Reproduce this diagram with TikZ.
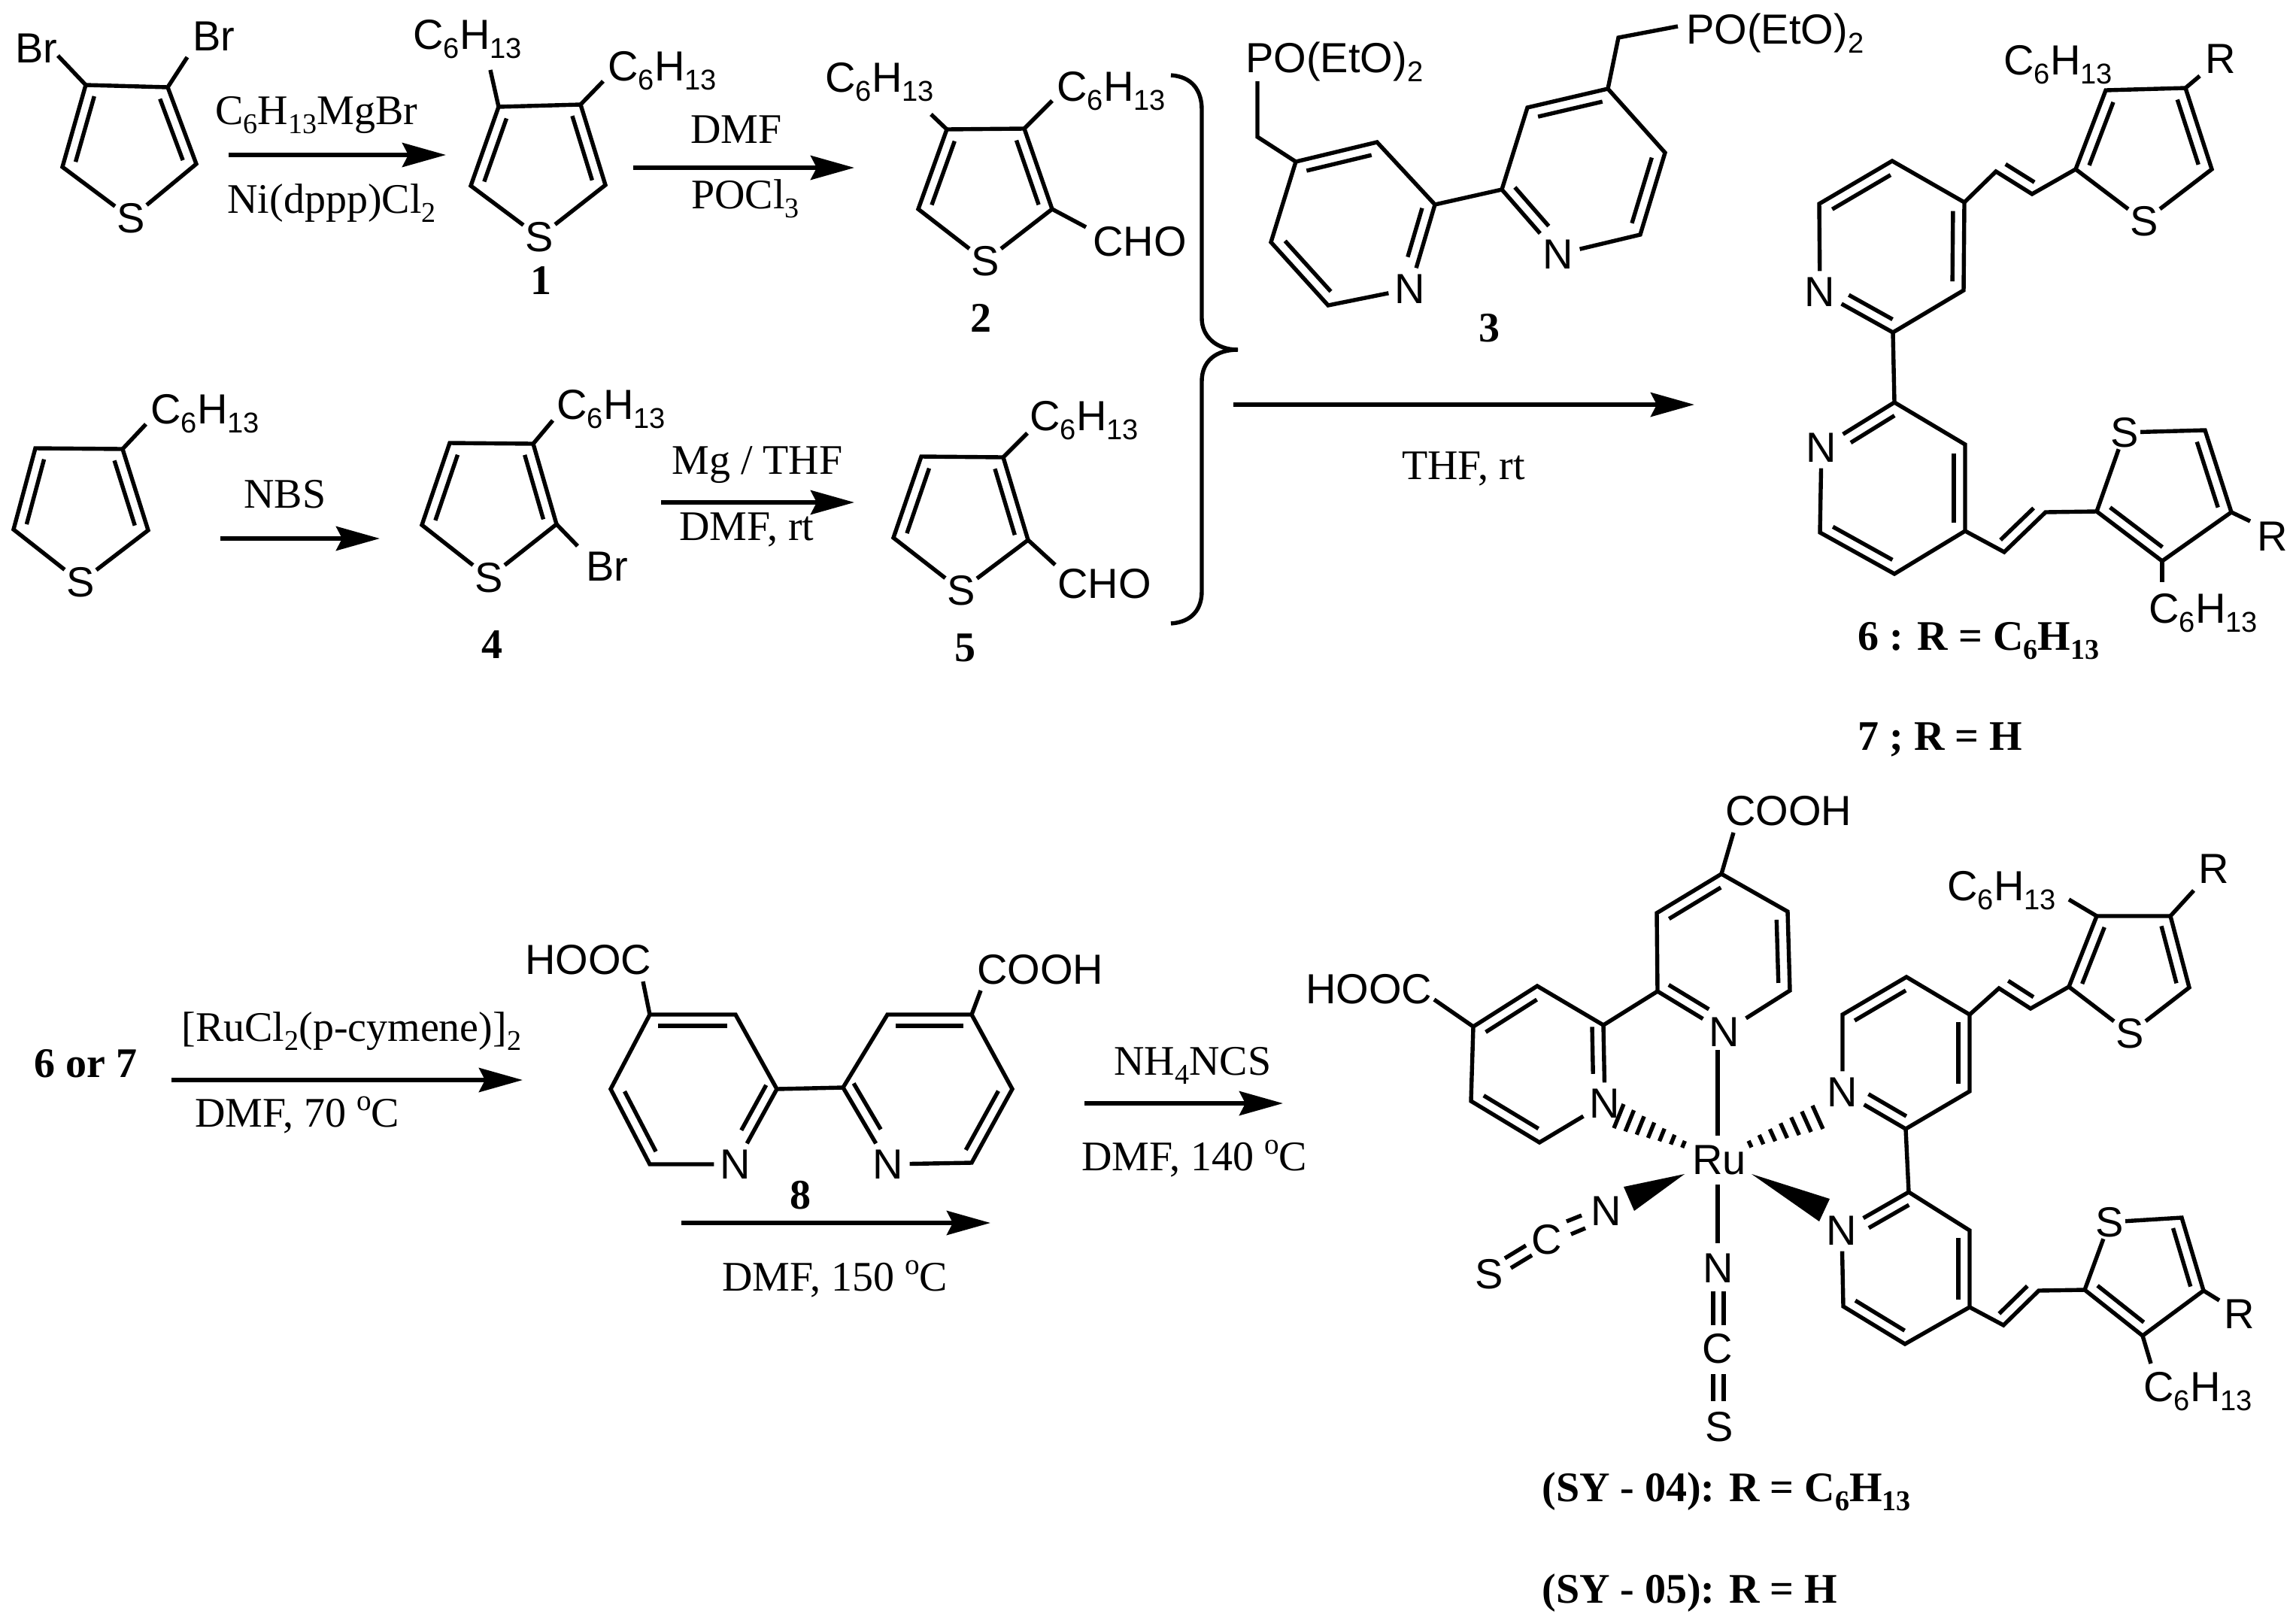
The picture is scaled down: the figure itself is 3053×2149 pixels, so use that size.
\documentclass[tikz,border=0pt]{standalone}
\usepackage{fontspec}
\setmainfont{Liberation Serif}
\newfontfamily\arialf{Liberation Sans}
\usetikzlibrary{calc,arrows.meta}
\newcommand\sbs[1]{\raisebox{-.23em}{\scalebox{.68}{#1}}}
\newcommand\dg{\raisebox{.38em}{\scalebox{.7}{o}}}
\newcommand\hex{C\sbs{6}H\sbs{13}}
\newcommand\ibx[4]{\draw[bond] ($(#1)!#3!(#2)!7.5pt!-90:(#2)$) -- ($(#1)!#4!(#2)!7.5pt!-90:(#2)$);}
\newcommand\ib[2]{\ibx{#1}{#2}{.1}{.9}}
\newcommand\hashb[3]{\foreach \f in {0,.12,.24,.36,.48,.6,.72}{\draw[bond] ($(#2)!\f!(#1)$) -- ($(#3)!\f!(#1)$);}}
\tikzset{
  x=0.5pt,y=-0.5pt,
  bond/.style={line width=2.7pt,line join=miter,line cap=butt},
  rxn/.style={line width=3pt,-{Stealth[length=29pt,width=16pt,inset=4pt]}},
  sfont/.style={font=\arialf\fontsize{28}{30}\selectfont},
  rfont/.style={font=\fontsize{28}{30}\selectfont},
  bfont/.style={font=\bfseries\fontsize{28}{30}\selectfont},
  satom/.style={sfont,inner sep=1pt},
  natom/.style={sfont,inner sep=4pt},
  slab/.style={sfont,anchor=base west,inner sep=0pt},
  rlab/.style={rfont,anchor=base west,inner sep=0pt},
  blab/.style={bfont,anchor=base west,inner sep=0pt},
  rcen/.style={rfont,inner sep=0pt},
  bcen/.style={bfont,inner sep=0pt},
  sym/.style={sfont,inner sep=0pt},
}
\begin{document}
\begin{tikzpicture}
\useasboundingbox (0,0) rectangle (3053,2149);
% ---------- dibromothiophene
\coordinate (a1) at (114,113); \coordinate (a2) at (223,116);
\coordinate (a3) at (261,218); \coordinate (a4) at (83,222);
\coordinate (a5) at (77,74); \coordinate (a6) at (249,76);
\node[satom] (aS) at (174,290) {S};
\node[slab] (aB1) at (20,83) {Br};
\node[slab] (aB2) at (256,67) {Br};
\draw[bond] (aS) -- (a3) -- (a2) -- (a1) -- (a4) -- (aS);
\draw[bond] (a1) -- (a5); \draw[bond] (a2) -- (a6);
\ib{a2}{a3} \ib{a4}{a1}
% arrow 1
\coordinate (r1s) at (304,206); \coordinate (r1e) at (593,206);
\draw[rxn] (r1s) -- (r1e);
\node[rlab] (r1a) at (286,165) {C\sbs{6}H\sbs{13}MgBr};
\node[rlab] (r1b) at (302,283) {Ni(dppp)Cl\sbs{2}};
% ---------- compound 1
\coordinate (b1) at (663,142); \coordinate (b2) at (772,139);
\coordinate (b3) at (805,246); \coordinate (b4) at (626,247);
\coordinate (b5) at (652,93); \coordinate (b6) at (802,108);
\node[satom] (bS) at (717,315) {S};
\node[slab] (bH1) at (549,65) {\hex};
\node[slab] (bH2) at (808,107) {\hex};
\node[bcen] (bN) at (719,373) {1};
\draw[bond] (bS) -- (b3) -- (b2) -- (b1) -- (b4) -- (bS);
\draw[bond] (b1) -- (b5); \draw[bond] (b2) -- (b6);
\ib{b2}{b3} \ib{b4}{b1}
% arrow 2
\coordinate (r2s) at (842,223); \coordinate (r2e) at (1136,223);
\draw[rxn] (r2s) -- (r2e);
\node[rcen] (r2a) at (979,172) {DMF};
\node[rlab] (r2b) at (919,277) {POCl\sbs{3}};
% ---------- compound 2
\coordinate (c1) at (1259,172); \coordinate (c2) at (1362,171);
\coordinate (c3) at (1399,278); \coordinate (c4) at (1221,278);
\coordinate (c5) at (1238,152); \coordinate (c6) at (1399,134);
\coordinate (c7) at (1444,302);
\node[satom] (cS) at (1310,347) {S};
\node[slab] (cH1) at (1097,122) {\hex};
\node[slab] (cH2) at (1405,134) {\hex};
\node[slab] (cC) at (1453,340) {CHO};
\node[bcen] (cN) at (1304,423) {2};
\draw[bond] (cS) -- (c3) -- (c2) -- (c1) -- (c4) -- (cS);
\draw[bond] (c1) -- (c5); \draw[bond] (c2) -- (c6); \draw[bond] (c3) -- (c7);
\ib{c2}{c3} \ib{c4}{c1}
% ---------- 3-hexylthiophene
\coordinate (e1) at (47,596); \coordinate (e2) at (163,597);
\coordinate (e3) at (197,705); \coordinate (e4) at (18,704);
\coordinate (e5) at (194,564);
\node[satom] (eS) at (107,774) {S};
\node[slab] (eH) at (200,563) {\hex};
\draw[bond] (eS) -- (e3) -- (e2) -- (e1) -- (e4) -- (eS);
\draw[bond] (e2) -- (e5);
\ib{e2}{e3} \ib{e4}{e1}
% arrow NBS
\coordinate (r3s) at (293,716); \coordinate (r3e) at (505,716);
\draw[rxn] (r3s) -- (r3e);
\node[rcen] (r3a) at (379,657) {NBS};
% ---------- compound 4
\coordinate (f1) at (598,589); \coordinate (f2) at (709,590);
\coordinate (f3) at (740,697); \coordinate (f4) at (561,698);
\coordinate (f5) at (735,559); \coordinate (f6) at (768,726);
\node[satom] (fS) at (650,768) {S};
\node[slab] (fH) at (740,557) {\hex};
\node[slab] (fB) at (779,772) {Br};
\node[bcen] (fN) at (654,857) {4};
\draw[bond] (fS) -- (f3) -- (f2) -- (f1) -- (f4) -- (fS);
\draw[bond] (f2) -- (f5); \draw[bond] (f3) -- (f6);
\ib{f2}{f3} \ib{f4}{f1}
% arrow Mg
\coordinate (r4s) at (879,668); \coordinate (r4e) at (1136,668);
\draw[rxn] (r4s) -- (r4e);
\node[rlab] (r4a) at (893,630) {Mg / THF};
\node[rlab] (r4b) at (903,718) {DMF, rt};
% ---------- compound 5
\coordinate (g1) at (1225,607); \coordinate (g2) at (1334,608);
\coordinate (g3) at (1367,718); \coordinate (g4) at (1188,715);
\coordinate (g5) at (1366,576); \coordinate (g6) at (1403,751);
\node[satom] (gS) at (1278,785) {S};
\node[slab] (gH) at (1369,572) {\hex};
\node[slab] (gC) at (1406,795) {CHO};
\node[bcen] (gN) at (1283,861) {5};
\draw[bond] (gS) -- (g3) -- (g2) -- (g1) -- (g4) -- (gS);
\draw[bond] (g2) -- (g5); \draw[bond] (g3) -- (g6);
\ib{g2}{g3} \ib{g4}{g1}
% brace
\coordinate (br1) at (1557,100); \coordinate (br2) at (1646,465); \coordinate (br3) at (1557,829);
\draw[bond] (br1) .. controls (1585,102) and (1598,120) .. (1598,146) -- (1598,423)
  .. controls (1598,447) and (1617,465) .. (br2);
\draw[bond] (br2) .. controls (1617,465) and (1598,480) .. (1598,507) -- (1598,786)
  .. controls (1598,810) and (1585,827) .. (br3);
% ---------- compound 3
\coordinate (d4) at (1723,215); \coordinate (d3) at (1831,189); \coordinate (d2) at (1908,272);
\coordinate (d6) at (1766,406); \coordinate (d5) at (1690,322);
\coordinate (dm) at (1672,182); \coordinate (dt) at (1672,108);
\node[natom] (dN) at (1875,384) {N};
\coordinate (h2) at (1997,252); \coordinate (h3) at (2031,143); \coordinate (h4) at (2138,118);
\coordinate (h5) at (2214,203); \coordinate (h6) at (2181,312);
\coordinate (hm) at (2152,50); \coordinate (ht) at (2231,35);
\node[natom] (hN) at (2072,338) {N};
\node[slab] (dP) at (1656,96) {PO(EtO)\sbs{2}};
\node[slab] (hP) at (2242,58) {PO(EtO)\sbs{2}};
\node[bcen] (dL) at (1980,436) {3};
\draw[bond] (dN) -- (d2) -- (d3) -- (d4) -- (d5) -- (d6) -- (dN);
\draw[bond] (hN) -- (h2) -- (h3) -- (h4) -- (h5) -- (h6) -- (hN);
\draw[bond] (d2) -- (h2);
\draw[bond] (d4) -- (dm) -- (dt); \draw[bond] (h4) -- (hm) -- (ht);
\ib{d4}{d3} \ib{d6}{d5} \ibx{d2}{dN}{.08}{.66}
\ib{h3}{h4} \ib{h5}{h6} \ibx{hN}{h2}{.32}{.92}
% big arrow
\coordinate (r5s) at (1640,538); \coordinate (r5e) at (2253,538);
\draw[rxn] (r5s) -- (r5e);
\node[rcen] (r5a) at (1946,623) {THF, rt};
% ---------- compound 6/7
\coordinate (k1) at (2516,214); \coordinate (k2) at (2612,269); \coordinate (k3) at (2611,386);
\coordinate (k4) at (2517,442); \coordinate (k5) at (2419,271);
\node[natom] (kN) at (2420,388) {N};
\coordinate (m1) at (2519,535); \coordinate (m2) at (2613,591); \coordinate (m3) at (2613,706);
\coordinate (m4) at (2519,763); \coordinate (m5) at (2420,708);
\node[natom] (mN) at (2422,595) {N};
\draw[bond] (kN) -- (k5) -- (k1) -- (k2) -- (k3) -- (k4) -- (kN);
\draw[bond] (mN) -- (m1) -- (m2) -- (m3) -- (m4) -- (m5) -- (mN);
\draw[bond] (k4) -- (m1);
\ib{k5}{k1} \ib{k2}{k3} \ibx{k4}{kN}{.08}{.68}
\ibx{mN}{m1}{.32}{.92} \ib{m2}{m3} \ib{m4}{m5}
\coordinate (v1) at (2654,228); \coordinate (v2) at (2702,258);
\coordinate (t1) at (2760,225); \coordinate (t2) at (2800,120); \coordinate (t3) at (2906,117);
\coordinate (t4) at (2941,225); \coordinate (t5) at (2925,101);
\node[satom] (tS) at (2851,294) {S};
\node[slab] (tH) at (2664,99) {\hex};
\node[sym] (tR) at (2953,78) {R};
\draw[bond] (k2) -- (v1) -- (v2) -- (t1) -- (t2) -- (t3) -- (t4) -- (tS) -- (t1);
\draw[bond] (t3) -- (t5);
\ib{v2}{v1} \ib{t1}{t2} \ib{t3}{t4}
\coordinate (w1) at (2665,734); \coordinate (w2) at (2720,681);
\coordinate (u1) at (2788,680); \coordinate (u2) at (2875,746); \coordinate (u3) at (2967,681);
\coordinate (u4) at (2932,572); \coordinate (u5) at (2992,693); \coordinate (u6) at (2875,774);
\node[satom] (uS) at (2825,575) {S};
\node[slab] (uH) at (2857,828) {\hex};
\node[sym] (uR) at (3022,713) {R};
\draw[bond] (m3) -- (w1) -- (w2) -- (u1) -- (u2) -- (u3) -- (u4) -- (uS) -- (u1);
\draw[bond] (u3) -- (u5); \draw[bond] (u2) -- (u6);
\ib{w2}{w1} \ib{u4}{u3} \ib{u2}{u1}
\node[blab] (l6) at (2470,864) {6 : R = C\sbs{6}H\sbs{13}};
\node[blab] (l7) at (2470,997) {7 ; R = H};
% ---------- second row, first step
\node[blab] (s67) at (45,1432) {6 or 7};
\coordinate (r6s) at (228,1436); \coordinate (r6e) at (695,1436);
\draw[rxn] (r6s) -- (r6e);
\node[rlab] (r6a) at (241,1384) {[RuCl\sbs{2}(p-cymene)]\sbs{2}};
\node[rlab] (r6b) at (259,1498) {DMF, 70 \dg C};
% ---------- compound 8
\coordinate (p1) at (864,1349); \coordinate (p2) at (978,1349); \coordinate (p3) at (1033,1448);
\coordinate (p5) at (864,1548); \coordinate (p6) at (812,1448); \coordinate (p7) at (855,1305);
\node[natom] (pN) at (978,1548) {N};
\coordinate (q1) at (1180,1349); \coordinate (q2) at (1292,1349); \coordinate (q3) at (1346,1448);
\coordinate (q4) at (1292,1546); \coordinate (q6) at (1121,1446); \coordinate (q7) at (1304,1317);
\node[natom] (qN) at (1181,1548) {N};
\node[slab] (pH) at (698,1295) {HOOC};
\node[slab] (qH) at (1299,1308) {COOH};
\node[bcen] (pL) at (1064,1589) {8};
\draw[bond] (pN) -- (p3) -- (p2) -- (p1) -- (p6) -- (p5) -- (pN);
\draw[bond] (qN) -- (q4) -- (q3) -- (q2) -- (q1) -- (q6) -- (qN);
\draw[bond] (p3) -- (q6); \draw[bond] (p1) -- (p7); \draw[bond] (q2) -- (q7);
\ib{p1}{p2} \ibx{p3}{pN}{.02}{.62} \ib{p5}{p6}
\ib{q1}{q2} \ib{q3}{q4} \ibx{qN}{q6}{.38}{.98}
\coordinate (r7s) at (906,1626); \coordinate (r7e) at (1317,1626);
\draw[rxn] (r7s) -- (r7e);
\node[rlab] (r7a) at (960,1716) {DMF, 150 \dg C};
\coordinate (r8s) at (1442,1467); \coordinate (r8e) at (1706,1467);
\draw[rxn] (r8s) -- (r8e);
\node[rlab] (r8a) at (1481,1429) {NH\sbs{4}NCS};
\node[rlab] (r8b) at (1438,1556) {DMF, 140 \dg C};
% ---------- Ru complex: bipy acid
\coordinate (x1) at (2289,1162); \coordinate (x2) at (2377,1212); \coordinate (x3) at (2380,1317);
\coordinate (x5) at (2204,1318); \coordinate (x6) at (2203,1214); \coordinate (x7) at (2305,1107);
\node[natom] (xN) at (2293,1372) {N};
\coordinate (y1) at (1959,1365); \coordinate (y2) at (2044,1311); \coordinate (y3) at (2132,1363);
\coordinate (y5) at (2047,1519); \coordinate (y6) at (1956,1464); \coordinate (y7) at (1907,1329);
\node[natom] (yN) at (2134,1467) {N};
\node[slab] (xH) at (2294,1097) {COOH};
\node[slab] (yH) at (1736,1334) {HOOC};
\draw[bond] (xN) -- (x3) -- (x2) -- (x1) -- (x6) -- (x5) -- (xN);
\draw[bond] (yN) -- (y3) -- (y2) -- (y1) -- (y6) -- (y5) -- (yN);
\draw[bond] (x5) -- (y3); \draw[bond] (x1) -- (x7); \draw[bond] (y1) -- (y7);
\ib{x6}{x1} \ib{x2}{x3} \ibx{xN}{x5}{.32}{.92}
\ib{y1}{y2} \ibx{y3}{yN}{.02}{.62} \ib{y5}{y6}
% Ru centre
\node[sym] (Ru) at (2286,1542) {Ru};
\coordinate (ru1) at (2284,1396); \coordinate (ru2) at (2284,1510);
\coordinate (ru3) at (2284,1575); \coordinate (ru4) at (2284,1653);
\draw[bond] (ru1) -- (ru2); \draw[bond] (ru3) -- (ru4);
% bottom NCS
\node[sym] (zN) at (2285,1686) {N};
\node[sym] (zC) at (2284,1793) {C};
\node[sym] (zS) at (2286,1897) {S};
\coordinate (z1) at (2278,1717); \coordinate (z2) at (2278,1762);
\coordinate (z3) at (2292,1717); \coordinate (z4) at (2292,1762);
\coordinate (z5) at (2278,1827); \coordinate (z6) at (2278,1863);
\coordinate (z7) at (2292,1827); \coordinate (z8) at (2292,1863);
\draw[bond] (z1) -- (z2); \draw[bond] (z3) -- (z4); \draw[bond] (z5) -- (z6); \draw[bond] (z7) -- (z8);
% left NCS
\node[sym] (oN) at (2136,1610) {N};
\node[sym] (oC) at (2057,1648) {C};
\node[sym] (oS) at (1980,1694) {S};
\coordinate (o1) at (2083,1624); \coordinate (o2) at (2103,1616);
\coordinate (o3) at (2089,1641); \coordinate (o4) at (2108,1633);
\coordinate (o5) at (2001,1673); \coordinate (o6) at (2029,1656);
\coordinate (o7) at (2009,1686); \coordinate (o8) at (2037,1669);
\draw[bond] (o1) -- (o2); \draw[bond] (o3) -- (o4); \draw[bond] (o5) -- (o6); \draw[bond] (o7) -- (o8);
% wedges and hashes
\coordinate (we1) at (2240,1561); \coordinate (we2) at (2159,1578); \coordinate (we3) at (2173,1610);
\fill (we1) -- (we2) -- (we3) -- cycle;
\coordinate (we4) at (2329,1561); \coordinate (we5) at (2433,1594); \coordinate (we6) at (2419,1624);
\fill (we4) -- (we5) -- (we6) -- cycle;
\coordinate (ha1) at (2272,1536); \coordinate (ha2) at (2146,1500); \coordinate (ha3) at (2159,1468);
\hashb{ha1}{ha2}{ha3}
\coordinate (hb1) at (2292,1535); \coordinate (hb2) at (2410,1470); \coordinate (hb3) at (2424,1501);
\hashb{hb1}{hb2}{hb3}
% ---------- Ru complex: thienyl bipy
\coordinate (A1) at (2535,1299); \coordinate (A2) at (2619,1349); \coordinate (A3) at (2619,1451);
\coordinate (A4) at (2534,1501); \coordinate (A5) at (2450,1349);
\node[natom] (AN) at (2450,1452) {N};
\coordinate (B1) at (2538,1585); \coordinate (B2) at (2619,1636); \coordinate (B3) at (2619,1738);
\coordinate (B4) at (2533,1787); \coordinate (B5) at (2451,1737);
\node[natom] (BN) at (2449,1636) {N};
\draw[bond] (AN) -- (A5) -- (A1) -- (A2) -- (A3) -- (A4) -- (AN);
\draw[bond] (BN) -- (B1) -- (B2) -- (B3) -- (B4) -- (B5) -- (BN);
\draw[bond] (A4) -- (B1);
\ib{A5}{A1} \ib{A2}{A3} \ibx{A4}{AN}{.08}{.68}
\ibx{BN}{B1}{.32}{.92} \ib{B2}{B3} \ib{B4}{B5}
\coordinate (C1) at (2658,1314); \coordinate (C2) at (2700,1341);
\coordinate (D1) at (2751,1312); \coordinate (D2) at (2788,1218); \coordinate (D3) at (2886,1218);
\coordinate (D4) at (2911,1313); \coordinate (D5) at (2917,1184); \coordinate (D6) at (2751,1196);
\node[satom] (DS) at (2832,1374) {S};
\node[slab] (DH) at (2589,1197) {\hex};
\node[sym] (DR) at (2944,1155) {R};
\draw[bond] (A2) -- (C1) -- (C2) -- (D1) -- (D2) -- (D3) -- (D4) -- (DS) -- (D1);
\draw[bond] (D3) -- (D5); \draw[bond] (D2) -- (D6);
\ib{C2}{C1} \ib{D1}{D2} \ib{D3}{D4}
\coordinate (E1) at (2664,1762); \coordinate (E2) at (2711,1716);
\coordinate (F1) at (2772,1715); \coordinate (F2) at (2849,1776); \coordinate (F3) at (2930,1716);
\coordinate (F4) at (2901,1619); \coordinate (F5) at (2951,1729); \coordinate (F6) at (2860,1813);
\node[satom] (FS) at (2805,1625) {S};
\node[slab] (FH) at (2850,1863) {\hex};
\node[sym] (FR) at (2978,1747) {R};
\draw[bond] (B3) -- (E1) -- (E2) -- (F1) -- (F2) -- (F3) -- (F4) -- (FS) -- (F1);
\draw[bond] (F3) -- (F5); \draw[bond] (F2) -- (F6);
\ib{E2}{E1} \ib{F4}{F3} \ib{F2}{F1}
\node[blab] (L4) at (2050,1996) {(SY - 04): R = C\sbs{6}H\sbs{13}};
\node[blab] (L5) at (2050,2131) {(SY - 05): R = H};
\end{tikzpicture}
\end{document}
